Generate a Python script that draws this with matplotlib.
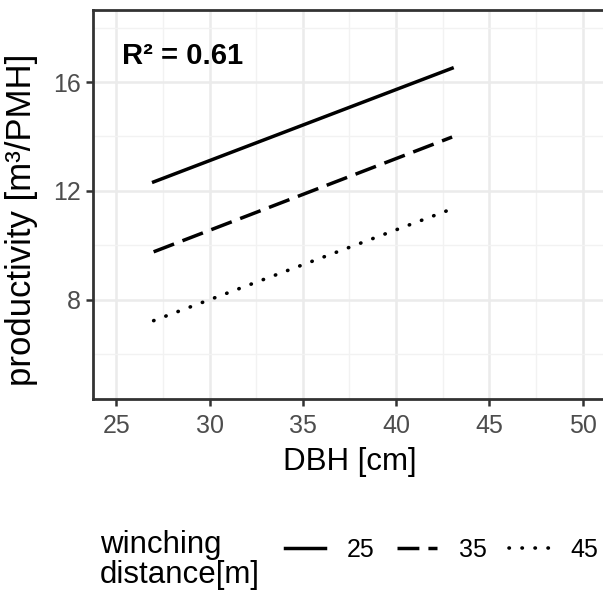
import matplotlib.pyplot as plt
from matplotlib.lines import Line2D
from matplotlib.ticker import MultipleLocator

plt.rcParams['font.family'] = ['Liberation Sans', 'DejaVu Sans']

# fitted productivity lines at the ends of the observed DBH range
dbh = [27, 43]
winch_dist = ['25', '35', '45']
prod_25 = [12.33, 16.51]
prod_35 = [9.76, 13.98]
prod_45 = [7.23, 11.34]
r2_label = 'R² = 0.61'

styles = {
    '25': dict(linestyle='-', linewidth=2.5),
    '35': dict(linestyle=(0, (6.3, 2.6)), linewidth=2.5),
    '45': dict(linestyle=(0, (0.1, 3.5)), linewidth=2.6, dash_capstyle='round'),
}

fig = plt.figure(figsize=(6.03, 5.92), dpi=100)
ax = fig.add_axes([93 / 603, 1 - 399 / 592, 513 / 603, 389 / 592])

for lab, y in zip(winch_dist, [prod_25, prod_35, prod_45]):
    ax.plot(dbh, y, color='black', **styles[lab], zorder=3)

ax.text(25.3, 16.95, r2_label, fontsize=21, fontweight='bold',
        ha='left', va='center')

ax.set_xlim(23.75, 51.25)
ax.set_ylim(4.35, 18.65)
ax.xaxis.set_major_locator(MultipleLocator(5))
ax.xaxis.set_minor_locator(MultipleLocator(2.5))
ax.set_yticks([8, 12, 16])
ax.set_yticks([6, 10, 14, 18], minor=True)
ax.grid(which='major', color='#EBEBEB', linewidth=1.8, zorder=0)
ax.grid(which='minor', color='#F2F2F2', linewidth=1.0, zorder=0)
ax.set_axisbelow(True)

for sp in ax.spines.values():
    sp.set_color('#333333')
    sp.set_linewidth(2.0)
ax.tick_params(which='major', length=5, width=1.8, color='#333333',
               labelcolor='#4D4D4D', labelsize=18)
ax.tick_params(axis='x', which='major', pad=6)
ax.tick_params(axis='y', which='major', pad=4)
ax.tick_params(which='minor', length=0)

ax.set_xlabel('DBH [cm]', fontsize=22.5, labelpad=6)
ax.set_ylabel('productivity [m³/PMH]', fontsize=25)
ax.yaxis.set_label_coords(-0.108, 0.46)

# legend along the bottom
fig.text(100 / 603, 1 - 560 / 592, 'winching\ndistance[m]', fontsize=22.5,
         ha='left', va='center', linespacing=0.97)
handles = [Line2D([], [], color='black', **styles[lab]) for lab in winch_dist]
fig.legend(handles, winch_dist, loc='center left', ncol=3, frameon=False,
           bbox_to_anchor=(285 / 603, 1 - 550 / 592), fontsize=18,
           handlelength=1.6, handletextpad=0.88, columnspacing=0.88,
           borderpad=0, borderaxespad=0)

fig.savefig('out.png', dpi=100)
